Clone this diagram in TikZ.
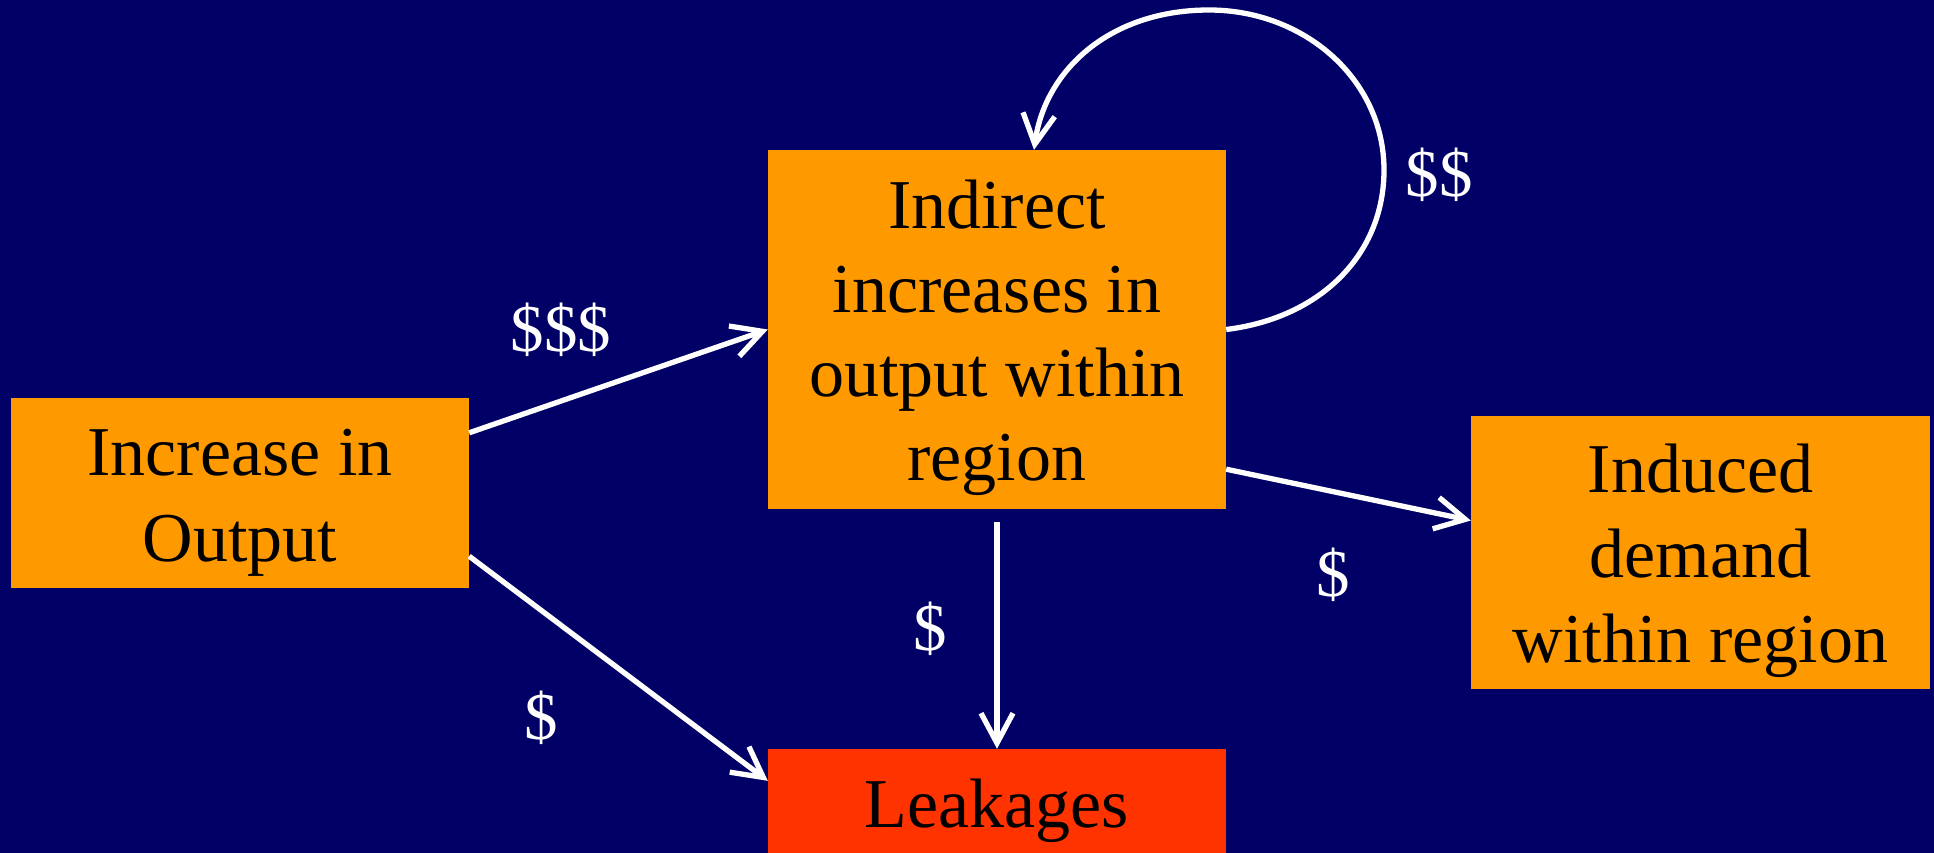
\documentclass[tikz,border=0pt]{standalone}
\usepackage{fontspec}
\setmainfont{Liberation Serif}
\usetikzlibrary{arrows.meta}
\definecolor{bg}{RGB}{0,0,102}
\definecolor{org}{RGB}{255,153,0}
\definecolor{leakc}{RGB}{255,51,0}
\newcommand\mytopstrut{\rule{0pt}{66pt}}
\begin{document}
\begin{tikzpicture}[x=1pt,y=-1pt,
 box/.style={fill=org, inner sep=0pt, align=center, text=black, font=\fontsize{70}{84}\selectfont, minimum width=458pt},
 lbl/.style={text=white, font=\fontsize{67}{80}\selectfont, inner sep=0pt},
 arr/.style={draw=white, line width=5.3pt, -{Straight Barb[length=30pt,width=32pt]}}]
\fill[bg] (0,0) rectangle (1934,853);
\useasboundingbox (0,0) rectangle (1934,853);
\node[box, minimum height=190pt, font=\fontsize{70}{86}\selectfont] (inc) at (240,493) {\mytopstrut Increase in\\Output};
\node[box, minimum height=359pt] (ind) at (997,329.5) {\mytopstrut Indirect\\increases in\\output within\\region};
\node[box, minimum width=459pt, minimum height=273pt, font=\fontsize{70}{85}\selectfont] (idd) at (1700.5,552.5) {\mytopstrut Induced\\demand\\within region};
\node[box, fill=leakc, minimum height=124pt] (leak) at (997,811) {Leakages};
\node[lbl] (l1) at (561,330) {\$\$\$};
\node[lbl] (l2) at (1439,175) {\$\$};
\node[lbl] (l3) at (1333,575) {\$};
\node[lbl] (l4) at (930,629) {\$};
\node[lbl] (l5) at (541,718) {\$};
\draw[arr] ([yshift=-35pt]inc.north east) -- (ind.west);
\draw[arr] ([yshift=32pt]inc.south east) -- ([yshift=-32pt]leak.north west);
\draw[arr] ([yshift=40pt]ind.south east) -- ([yshift=32pt]idd.west);
\draw[arr] ([yshift=-13pt]ind.south) -- (leak.north);
\coordinate (lr) at (1384,170);
\coordinate (lt) at (1209,10);
\draw[arr] (ind.east) .. controls (1320,318) and (1384,255) .. (lr)
  .. controls (1384,80) and (1305,10) .. (lt)
  .. controls (1110,10) and (1045,70) .. ([xshift=37pt]ind.north);
\end{tikzpicture}
\end{document}
